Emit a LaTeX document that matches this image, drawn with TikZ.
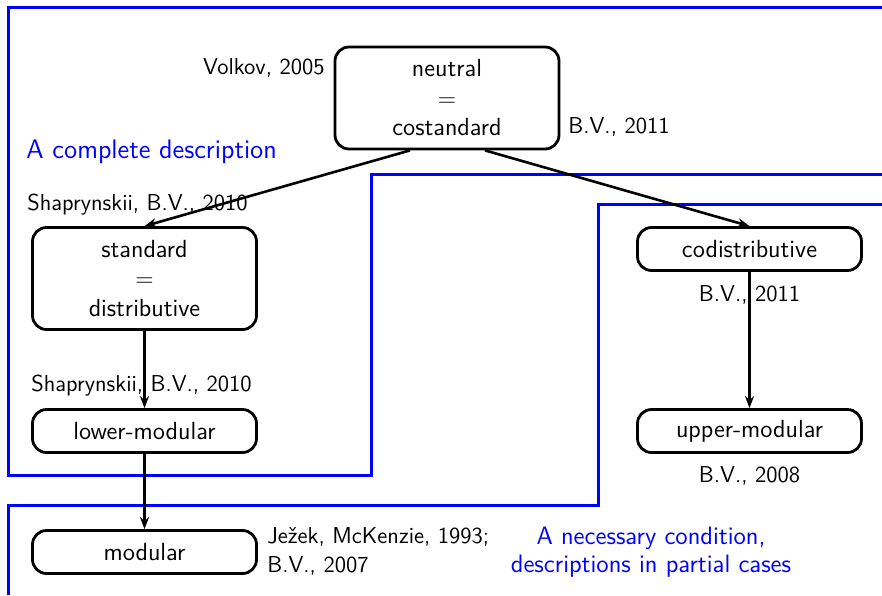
\documentclass[tikz,border=0pt]{standalone}
\usetikzlibrary{arrows.meta}
\begin{document}
\begin{tikzpicture}[x=0.5pt,y=-0.5pt,
  every node/.style={font=\sffamily},
  box/.style={draw=black, line width=1.4pt, rounded corners=7pt,
    minimum width=112pt, align=center, inner sep=0pt,
    font=\sffamily\fontsize{12.4}{14.75}\selectfont},
  tallbox/.style={box, minimum height=51pt},
  flatbox/.style={box, minimum height=21.5pt},
  cite/.style={font=\sffamily\fontsize{11.5}{13}\selectfont, inner sep=0pt},
  region/.style={draw=blue, line width=1.5pt},
  note/.style={text=blue, font=\sffamily\fontsize{12.6}{14}\selectfont,
    inner sep=0pt, align=center},
  link/.style={line width=1.3pt, -{Stealth[length=6pt,width=4.5pt,inset=2pt]}}
]
\useasboundingbox (0,0) rectangle (882,595);

% region of complete descriptions
\draw[region] (882,7.5) -- (8.5,7.5) -- (8.5,475) -- (371.5,475)
  -- (371.5,174) -- (882,174);
% region of necessary conditions
\draw[region] (882,204.5) -- (598.5,204.5) -- (598.5,505) -- (8.5,505)
  -- (8.5,595);

% lattice elements
\node[tallbox] (neutral) at (447,98) {neutral\\$=$\\costandard};
\node[tallbox] (standard) at (144.5,278.5) {standard\\$=$\\distributive};
\node[flatbox] (lower) at (144.5,431) {lower-modular};
\node[flatbox] (modular) at (144.5,552) {modular};
\node[flatbox] (codist) at (749.5,249) {codistributive};
\node[flatbox] (upper) at (749.5,431) {upper-modular};

% authors
\node[cite, anchor=base east] (c1) at (325,74) {Volkov, 2005};
\node[cite, anchor=base west] (c2) at (568,133) {B.V., 2011};
\node[cite, anchor=base west] (c3) at (27,210) {Shaprynskii, B.V., 2010};
\node[cite, anchor=base west] (c4) at (31,391) {Shaprynskii, B.V., 2010};
\node[cite, anchor=base] (c5) at (749.5,301) {B.V., 2011};
\node[cite, anchor=base] (c6) at (749.5,482) {B.V., 2008};
\node[cite, anchor=base west] (c7) at (267,543) {Ježek, McKenzie, 1993;};
\node[cite, anchor=base west] (c8) at (267,572) {B.V., 2007};

% region captions
\node[note, anchor=base west, font=\sffamily\fontsize{13.4}{15}\selectfont]
  (n1) at (26,158) {A complete description};
\node[note, anchor=base] (n2) at (651,544) {A necessary condition,};
\node[note, anchor=base] (n3) at (651,572) {descriptions in partial cases};

% implications
\draw[link] ([xshift=-18.5pt]neutral.south) -- (standard.north);
\draw[link] ([xshift=19pt]neutral.south) -- (codist.north);
\draw[link] (standard.south) -- (lower.north);
\draw[link] (lower.south) -- (modular.north);
\draw[link] (codist.south) -- (upper.north);
\end{tikzpicture}
\end{document}
